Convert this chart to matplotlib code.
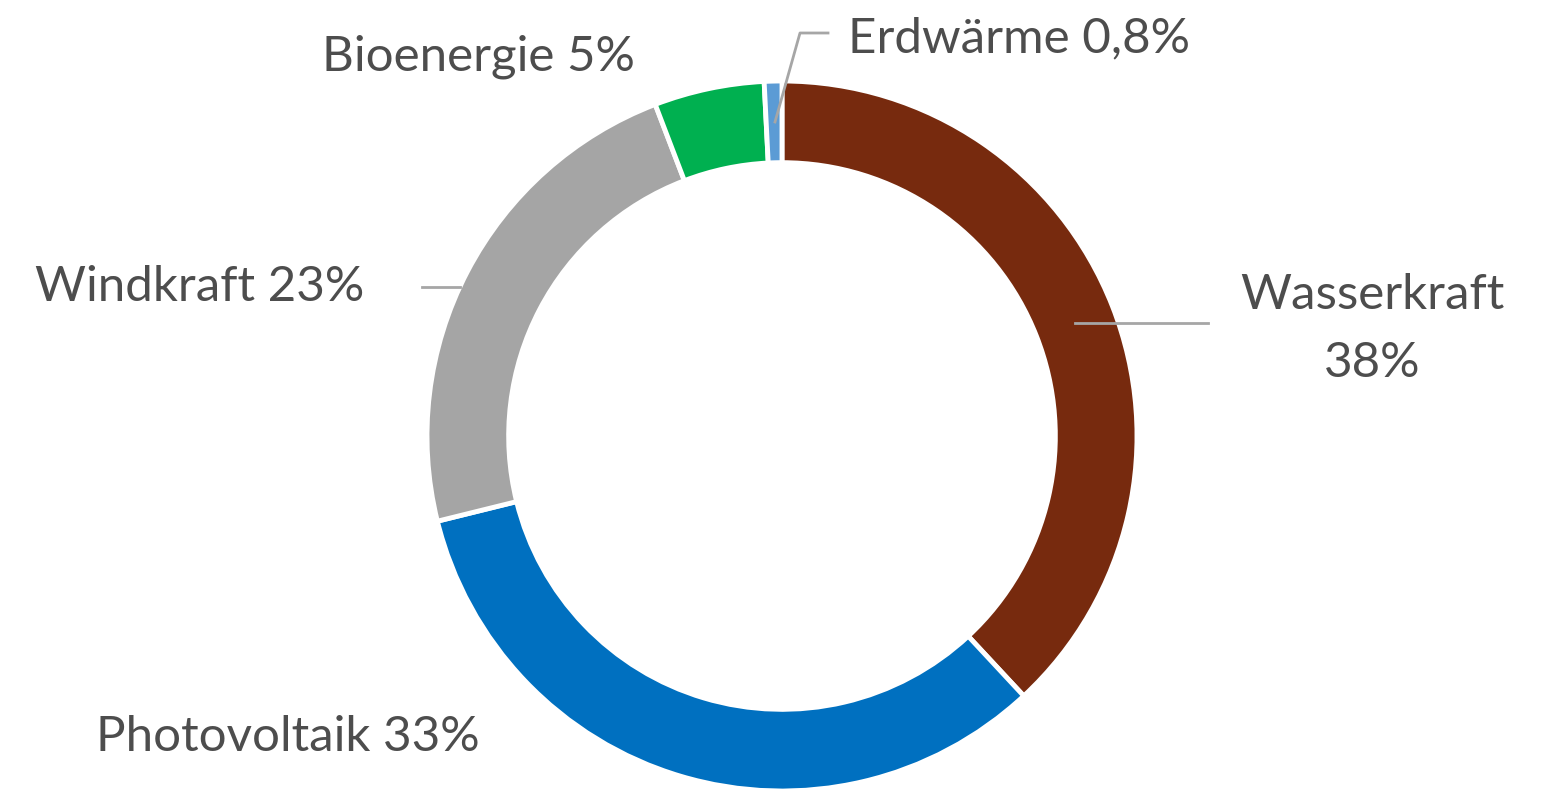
import matplotlib.pyplot as plt
import numpy as np

plt.rcParams['font.family'] = ['Lato', 'DejaVu Sans']

# data
sources = ["Wasserkraft", "Photovoltaik", "Windkraft", "Bioenergie", "Erdwärme"]
shares = [38, 33, 23, 5, 0.8]
share_labels = ["38%", "33%", "23%", "5%", "0,8%"]
colors = ["#772A0E", "#0070C0", "#A5A5A5", "#00B050", "#5B9BD5"]

W, H = 1542, 789
CX, CY, R = 782, 436, 355   # pie centre / radius in pixels


def px(x, y):
    # pixel position -> data coords (radius 1 = R pixels)
    return (x - CX) / R, (CY - y) / R


fig = plt.figure(figsize=(W / 100, H / 100), dpi=100)
ax = fig.add_axes([0, 0, 1, 1])

wedges, _ = ax.pie(shares, colors=colors, startangle=90, counterclock=False,
                   radius=1.0,
                   wedgeprops=dict(width=0.23, edgecolor="white", linewidth=3.5))

ax.set_xlim(-CX / R, (W - CX) / R)
ax.set_ylim(-(H - CY) / R, CY / R)
ax.set_aspect("equal")
ax.axis("off")

txt_color = "#4D4D4D"
line_color = "#A6A6A6"
fs = 35.5

# Wasserkraft (two lines, centred)
x0, y0 = px(1075, 323)
x1, y1 = px(1208, 323)
ax.plot([x0, x1], [y0, y1], color=line_color, lw=2)
tx, ty = px(1372, 329)
ax.text(tx, ty, sources[0] + "\n" + share_labels[0], ha="center", va="center",
        fontsize=fs, color=txt_color, linespacing=1.65)

# Photovoltaik
tx, ty = px(96, 737)
ax.text(tx, ty, sources[1] + " " + share_labels[1], ha="left", va="center",
        fontsize=fs, color=txt_color)

# Windkraft
x0, y0 = px(422, 287)
x1, y1 = px(460, 287)
ax.plot([x0, x1], [y0, y1], color=line_color, lw=2)
tx, ty = px(35, 287)
ax.text(tx, ty, sources[2] + " " + share_labels[2], ha="left", va="center",
        fontsize=fs, color=txt_color)

# Bioenergie
tx, ty = px(322, 57)
ax.text(tx, ty, sources[3] + " " + share_labels[3], ha="left", va="center",
        fontsize=fs, color=txt_color)

# Erdwärme with bent leader
pts = [px(775, 122), px(800, 33), px(828, 33)]
ax.plot([p[0] for p in pts], [p[1] for p in pts], color=line_color, lw=2)
tx, ty = px(848, 38)
ax.text(tx, ty, sources[4] + " " + share_labels[4], ha="left", va="center",
        fontsize=fs, color=txt_color)

fig.savefig("out.png", dpi=100, facecolor="white")
